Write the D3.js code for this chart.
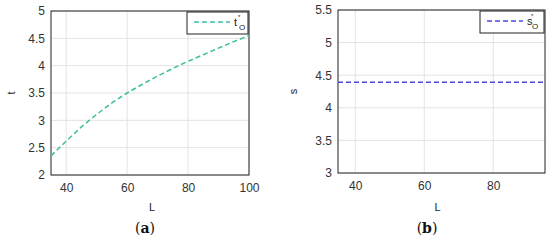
<!DOCTYPE html>
<html>
<head>
<meta charset="utf-8">
<script src="https://cdn.jsdelivr.net/npm/d3@7"></script>
<style>
body { margin: 0; background: #fff; }
svg text { font-family: "Liberation Sans", Arial, sans-serif; }
.tick text { fill: #333; font-size: 12px; }
</style>
</head>
<body>
<div id="chart"></div>
<script>
// panel (a): t*_O against L
var tL = [35, 40, 45, 50, 55, 60, 65, 70, 75, 80, 85, 90, 95, 100];
var tVals = [2.35, 2.62, 2.88, 3.11, 3.32, 3.5, 3.66, 3.81, 3.95, 4.08, 4.2, 4.32, 4.44, 4.55];
var tYTicks = [2, 2.5, 3, 3.5, 4, 4.5, 5];
var tXTicks = [40, 60, 80, 100];

// panel (b): s*_O against L (flat)
var sL = [35, 95];
var sVals = [4.39, 4.39];
var sYTicks = [3, 3.5, 4, 4.5, 5, 5.5];
var sXTicks = [40, 60, 80];

var svg = d3.select("#chart").append("svg").attr("width", 550).attr("height", 240);
var fmt = d3.format("~g");

function panel(opt) {
  var x = d3.scaleLinear().domain(opt.xDomain).range([opt.left, opt.right]);
  var y = d3.scaleLinear().domain(opt.yDomain).range([opt.bottom, opt.top]);
  var g = svg.append("g");

  // grid
  g.selectAll(".vg").data(opt.xTicks).enter().append("line")
    .attr("x1", function (d) { return x(d); }).attr("x2", function (d) { return x(d); })
    .attr("y1", opt.top).attr("y2", opt.bottom)
    .attr("stroke", "#e3e3e3").attr("stroke-width", 1);
  g.selectAll(".hg").data(opt.yTicks).enter().append("line")
    .attr("y1", function (d) { return y(d); }).attr("y2", function (d) { return y(d); })
    .attr("x1", opt.left).attr("x2", opt.right)
    .attr("stroke", "#e3e3e3").attr("stroke-width", 1);

  // axes
  var xa = g.append("g").attr("transform", "translate(0," + opt.bottom + ")")
    .call(d3.axisBottom(x).tickValues(opt.xTicks).tickFormat(fmt).tickSize(0).tickPadding(8));
  var ya = g.append("g").attr("transform", "translate(" + opt.left + ",0)")
    .call(d3.axisLeft(y).tickValues(opt.yTicks).tickFormat(fmt).tickSize(0).tickPadding(6));
  xa.select(".domain").remove();
  ya.select(".domain").remove();

  g.append("rect")
    .attr("x", opt.left).attr("y", opt.top)
    .attr("width", opt.right - opt.left).attr("height", opt.bottom - opt.top)
    .attr("fill", "none").attr("stroke", "#222").attr("stroke-width", 1);

  // line
  var line = d3.line().x(function (d) { return x(d[0]); }).y(function (d) { return y(d[1]); });
  g.append("path")
    .datum(d3.zip(opt.xs, opt.ys))
    .attr("d", line)
    .attr("fill", "none")
    .attr("stroke", opt.color)
    .attr("stroke-width", 1.5)
    .attr("stroke-dasharray", "5,3");

  // legend
  var lg = g.append("g");
  lg.append("rect")
    .attr("x", opt.legX).attr("y", opt.top + 1)
    .attr("width", opt.right - opt.legX - 1).attr("height", 22)
    .attr("fill", "#fff").attr("stroke", "#222").attr("stroke-width", 1);
  lg.append("line")
    .attr("x1", opt.legX + 7).attr("x2", opt.legX + 43)
    .attr("y1", opt.top + 11).attr("y2", opt.top + 11)
    .attr("stroke", opt.color).attr("stroke-width", 1.5)
    .attr("stroke-dasharray", "5,3");
  var tx = opt.legX + 47;
  lg.append("text").attr("x", tx).attr("y", opt.top + 15)
    .style("font-size", "11px").attr("fill", "#222").text(opt.sym);
  lg.append("text").attr("x", tx + 4).attr("y", opt.top + 8)
    .style("font-size", "6px").attr("fill", "#222").text("*");
  lg.append("text").attr("x", tx + 5).attr("y", opt.top + 19)
    .style("font-size", "8px").attr("fill", "#222").text("O");

  // labels
  g.append("text")
    .attr("x", (opt.left + opt.right) / 2 + opt.lDx).attr("y", 211)
    .attr("text-anchor", "middle").style("font-size", "11px").attr("fill", "#222")
    .text("L");
  g.append("text")
    .attr("transform", "translate(" + opt.yLabX + "," + (opt.top + opt.bottom) / 2 + ") rotate(-90)")
    .attr("text-anchor", "middle").style("font-size", "11px").attr("fill", "#222")
    .text(opt.sym);
  var cap = g.append("text")
    .attr("x", opt.capX).attr("y", 233)
    .attr("text-anchor", "middle")
    .style("font-family", "'DejaVu Serif', 'Liberation Serif', serif")
    .style("font-size", "14px").attr("fill", "#111");
  cap.append("tspan").text("(");
  cap.append("tspan").style("font-weight", "bold").text(opt.tag);
  cap.append("tspan").text(")");
}

panel({
  xDomain: [35, 100], yDomain: [2, 5],
  left: 51, right: 249, top: 11, bottom: 175,
  xTicks: tXTicks, yTicks: tYTicks,
  xs: tL, ys: tVals, color: "#3cbf9e",
  legX: 187, sym: "t", yLabX: 15, lDx: 2, capX: 145, tag: "a"
});

panel({
  xDomain: [35, 95], yDomain: [3, 5.5],
  left: 338, right: 545, top: 10, bottom: 173,
  xTicks: sXTicks, yTicks: sYTicks,
  xs: sL, ys: sVals, color: "#4b4be6",
  legX: 480, sym: "s", yLabX: 297, lDx: -4, capX: 427, tag: "b"
});
</script>
</body>
</html>
